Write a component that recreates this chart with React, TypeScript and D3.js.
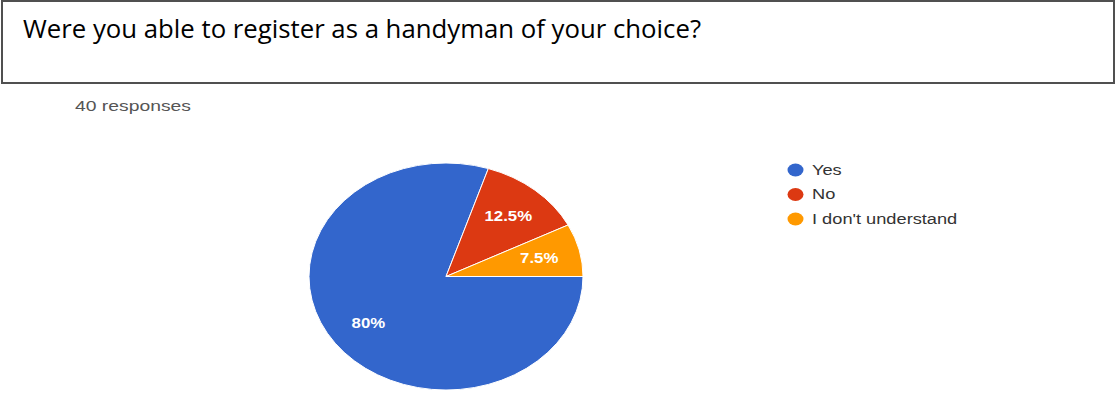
import React from "react";
import * as d3 from "d3";

const title = "Were you able to register as a handyman of your choice?";
const subtitle = "40 responses";
const categories = ["Yes", "No", "I don't understand"];
const values = [80, 12.5, 7.5];
const colors = ["#3366cc", "#dc3912", "#ff9900"];

export default function App() {
  const W = 1116, H = 394;
  const cx = 446, cy = 276.5, rx = 137, ry = 113.5;
  const R = 100;
  const pie = d3.pie<number>().sort(null).startAngle(Math.PI / 2).endAngle(Math.PI / 2 + 2 * Math.PI);
  const arcs = pie(values);
  const arc = d3.arc<d3.PieArcDatum<number>>().innerRadius(0).outerRadius(R);
  const labelArc = d3.arc<d3.PieArcDatum<number>>().innerRadius(R * 0.7).outerRadius(R * 0.7);
  const sx = rx / R, sy = ry / R;
  const legendY = d3.scalePoint<string>().domain(categories).range([170, 219]);
  const textFont = "'Liberation Sans', Arial, sans-serif";
  const hs = 1.2;
  return (
    <svg width={W} height={H} style={{ position: "absolute", left: 0, top: 0, background: "#fff" }}>
      <rect x={2} y={1} width={1112} height={82} fill="#fff" stroke="#505050" strokeWidth={2} />
      <text x={23} y={38} fontFamily="'Open Sans', 'Noto Sans', sans-serif" fontSize={26} fill="#000"
        textLength={678} lengthAdjust="spacingAndGlyphs">{title}</text>
      <text x={0} y={0} transform={`translate(75,111) scale(${hs},1)`} fontFamily={textFont} fontSize={14} fill="#555"
        textLength={116 / hs} lengthAdjust="spacingAndGlyphs">{subtitle}</text>
      <g transform={`translate(${cx},${cy}) scale(${sx},${sy})`}>
        {arcs.map((a, i) => (
          <path key={i} d={arc(a) || ""} fill={colors[i]} stroke="#fff" strokeWidth={1} vectorEffect="non-scaling-stroke" />
        ))}
      </g>
      {arcs.map((a, i) => {
        const [lx, ly] = labelArc.centroid(a);
        const x = cx + lx * sx, y = cy + ly * sy;
        return (
          <text key={i} x={0} y={0} transform={`translate(${x},${y}) scale(${hs},1)`} textAnchor="middle"
            dominantBaseline="central" fontFamily={textFont} fontSize={14} fontWeight="bold" fill="#fff">
            {`${values[i]}%`}
          </text>
        );
      })}
      {categories.map((c, i) => {
        const y = legendY(c) as number;
        return (
          <g key={c}>
            <ellipse cx={795.5} cy={y} rx={8} ry={6.5} fill={colors[i]} />
            <text x={0} y={0} transform={`translate(812,${y}) scale(${hs},1)`} dominantBaseline="central"
              fontFamily={textFont} fontSize={15.2} fill="#333">{c}</text>
          </g>
        );
      })}
    </svg>
  );
}
